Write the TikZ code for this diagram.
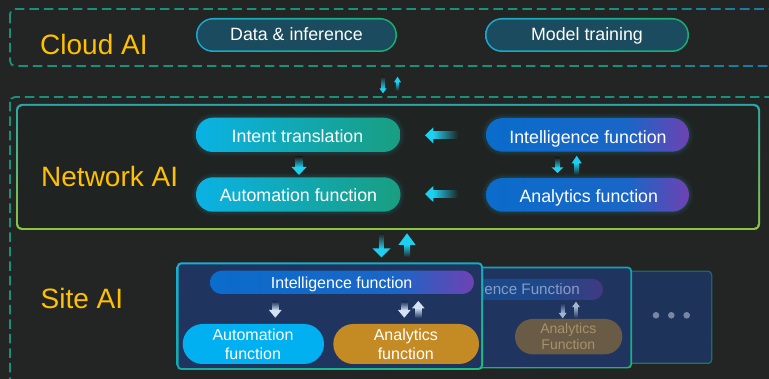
\documentclass[tikz,border=0pt]{standalone}
\usepackage{fontspec}
\setmainfont{Liberation Sans}
\usetikzlibrary{shadings}
\definecolor{bg}{HTML}{232525}
\definecolor{ylw}{HTML}{FFC000}
\definecolor{dteal}{HTML}{17907E}
\definecolor{dblue}{HTML}{1A78B0}
\definecolor{cloudfill}{HTML}{1B4B5E}
\definecolor{cbl}{HTML}{19A9D2}
\definecolor{cbr}{HTML}{17B06E}
\definecolor{nettop}{HTML}{2AA7A8}
\definecolor{netbot}{HTML}{8DC63F}
\definecolor{netfill}{HTML}{1F2322}
\definecolor{cyanL}{HTML}{0AB2E4}
\definecolor{tealR}{HTML}{199E80}
\definecolor{blueL}{HTML}{0A6CCB}
\definecolor{bpmid}{HTML}{1A66C6}
\definecolor{purpR}{HTML}{6E42B2}
\definecolor{arrc}{HTML}{1DD0F0}
\definecolor{glowc}{HTML}{2AB8D8}
\definecolor{navy}{HTML}{1F3560}
\definecolor{navy2}{HTML}{1E3359}
\definecolor{sauto}{HTML}{00B0F0}
\definecolor{sanaly}{HTML}{C48B25}
\definecolor{bb1}{HTML}{1B6B68}
\definecolor{bb2}{HTML}{1B7A5C}
\definecolor{mb1}{HTML}{14A3B5}
\definecolor{mb2}{HTML}{16A98F}
\definecolor{mb3}{HTML}{1CB573}
\definecolor{fb1}{HTML}{1AAED2}
\definecolor{fb2}{HTML}{14ADBE}
\definecolor{fb3}{HTML}{15AAA8}
\definecolor{fb4}{HTML}{1DC178}
\definecolor{fadetext}{HTML}{8C9CC0}
\definecolor{fadearr}{HTML}{A5B5CF}
\definecolor{fadegold}{HTML}{A8926C}
\definecolor{larr}{HTML}{D3E2F4}
\definecolor{dotc}{HTML}{7786A6}
\pgfdeclarehorizontalshading{bluepurple}{100bp}{color(0bp)=(blueL); color(25bp)=(blueL); color(60bp)=(bpmid); color(75bp)=(purpR); color(100bp)=(purpR)}
\pgfdeclarehorizontalshading{cyanteal}{100bp}{color(0bp)=(cyanL); color(25bp)=(cyanL); color(75bp)=(tealR); color(100bp)=(tealR)}
% down arrow: x, ytop, ytip, tail width, head width, head length, colour, fade colour
\newcommand{\arrdn}[8]{%
  \shade[top color=#8, bottom color=#7] ({#1-#4/2},#2) rectangle ({#1+#4/2},{#3-#6+0.3});
  \fill[#7] ({#1-#5/2},{#3-#6}) -- ({#1+#5/2},{#3-#6}) -- (#1,#3) -- cycle;}
% up arrow: x, ytip, ybottom, tail width, head width, head length, colour, fade colour
\newcommand{\arrup}[8]{%
  \shade[top color=#7, bottom color=#8] ({#1-#4/2},{#2+#6-0.3}) rectangle ({#1+#4/2},#3);
  \fill[#7] ({#1-#5/2},{#2+#6}) -- ({#1+#5/2},{#2+#6}) -- (#1,#2) -- cycle;}
% left arrow: y, xtip, xend, tail width, head width, head length, colour, fade colour
\newcommand{\arrlf}[8]{%
  \shade[left color=#7, right color=#8] ({#2+#6-0.3},{#1-#4/2}) rectangle (#3,{#1+#4/2});
  \fill[#7] ({#2+#6},{#1-#5/2}) -- ({#2+#6},{#1+#5/2}) -- (#2,#1) -- cycle;}
% soft glow round a pill: x1, y1, x2, y2, radius
\newcommand{\glow}[5]{%
  \fill[glowc, opacity=.06, rounded corners={#5+4pt}] ({#1-4},{#2-4}) rectangle ({#3+4},{#4+4});
  \fill[glowc, opacity=.08, rounded corners={#5+2pt}] ({#1-2},{#2-2}) rectangle ({#3+2},{#4+2});}
\newcommand{\twoline}[3]{\vtop{\baselineskip=#3\relax\lineskiplimit=-30pt\relax\halign{\hfil##\hfil\cr#1\cr#2\cr}}}
\tikzset{
  title/.style={text=ylw, font=\fontsize{28}{32}\selectfont, anchor=base west, inner sep=0pt},
  ptext/.style={text=white, font=\fontsize{17.8}{21}\selectfont, anchor=base, inner sep=0pt},
  stext/.style={text=white, font=\fontsize{16}{19}\selectfont, anchor=base, inner sep=0pt},
  dashbox/.style={line width=1.8pt, dash pattern=on 9.5pt off 5pt, rounded corners=5pt},
}
\begin{document}
\begin{tikzpicture}[x=1pt,y=-1pt]
\useasboundingbox (0,0) rectangle (769,379);
\fill[bg] (0,0) rectangle (769,379);
\clip (0,0) rectangle (769,379);
% dashed frames
\draw[dashbox, dteal] (10,9) rectangle (800,66);
\foreach \i in {0,...,11}{
  \pgfmathtruncatemacro\pct{100-\i*9}
  \begin{scope}
    \clip ({600+\i*15},0) rectangle ({615.5+\i*15},80);
    \draw[dashbox, dteal!\pct!dblue] (10,9) rectangle (800,66);
  \end{scope}
}
\draw[dashbox, dteal] (10,97) rectangle (800,420);
% cloud
\node[title] (cloudai) at (40,55) {Cloud AI};
\shade[left color=cbl, right color=cbr, rounded corners=17pt] (196,18) rectangle (397,52);
\fill[cloudfill, rounded corners=15.4pt] (197.6,19.6) rectangle (395.4,50.4);
\node[ptext] (data) at (296.5,41) {Data \& inference};
\shade[left color=cbl, right color=cbr, rounded corners=17pt] (485,18) rectangle (689,52);
\fill[cloudfill, rounded corners=15.4pt] (486.6,19.6) rectangle (687.4,50.4);
\node[ptext] (model) at (587,41) {Model training};
\arrdn{383}{76.7}{93.3}{4}{7.3}{5}{arrc}{bg}
\arrup{397.5}{76.7}{90.7}{3.3}{7}{5.6}{arrc}{bg}
% network
\shade[top color=nettop, bottom color=netbot, rounded corners=6pt] (16,104) rectangle (760,230);
\fill[netfill, rounded corners=4.5pt] (18,106) rectangle (758,228);
\node[title] (netai) at (41,186.5) {Network AI};
\glow{196}{117.7}{400.5}{152}{17pt}
\glow{196}{177.3}{400.5}{211.7}{17pt}
\glow{486}{118}{689}{151.7}{16.8pt}
\glow{486}{178}{689}{211.7}{16.8pt}
\shade[shading=cyanteal, rounded corners=17pt] (196,117.7) rectangle (400.5,152);
\node[ptext] (intent) at (297.5,142.7) {Intent translation};
\shade[shading=cyanteal, rounded corners=17pt] (196,177.3) rectangle (400.5,211.7);
\node[ptext] (autonet) at (298.5,201.7) {Automation function};
\shade[shading=bluepurple, rounded corners=16.8pt] (486,118) rectangle (689,151.7);
\node[ptext] (intelnet) at (588,143.3) {Intelligence function};
\shade[shading=bluepurple, rounded corners=16.8pt] (486,178) rectangle (689,211.7);
\node[ptext] (analnet) at (588.8,202.7) {Analytics function};
\arrlf{135.3}{425}{458.3}{6.7}{16}{8.3}{arrc}{netfill}
\arrlf{194}{425}{458.3}{6.7}{16}{8.3}{arrc}{netfill}
\arrdn{299}{157}{175}{7}{15}{8}{arrc}{netfill}
\arrdn{557.5}{158}{173}{5}{11.6}{5.5}{arrc}{netfill}
\arrup{576.7}{155.7}{175}{5}{10}{7.6}{arrc}{netfill}
\arrdn{381.5}{234}{257.3}{4.7}{18.4}{9}{arrc}{bg}
\arrup{407}{233.3}{257}{6}{17.3}{11.7}{arrc}{bg}
% site
\node[title] (siteai) at (40.5,308.3) {Site AI};
% back card
\shade[upper left=bb1, upper right=bb1, lower left=bb2, lower right=bb2, rounded corners=4pt] (560,270.7) rectangle (712.3,364);
\fill[navy2, rounded corners=3pt] (561.3,272) rectangle (711,362.7);
\fill[dotc] (656,315.3) circle (3.3) (671.3,315.3) circle (3.3) (686.7,315.3) circle (3.3);
% middle card
\shade[upper left=mb1, upper right=mb1, lower left=mb2, lower right=mb3, rounded corners=4pt] (330,266.7) rectangle (632,368.5);
\fill[navy, rounded corners=3pt] (331.7,268.4) rectangle (630.3,366.8);
\begin{scope}[opacity=.42]
  \shade[shading=bluepurple, rounded corners=10.5pt] (400,279) rectangle (603,300);
\end{scope}
\node[stext, text=fadetext, font=\fontsize{15.2}{18}\selectfont, anchor=base east] (intelmid) at (580,295) {Intelligence Function};
\arrdn{562.7}{303.3}{318.3}{3.5}{8}{5.5}{fadearr}{navy}
\arrup{576}{301.7}{318}{3.5}{8}{5.5}{fadearr}{navy}
\fill[sanaly, opacity=.45, rounded corners=17.6pt] (515,319) rectangle (622.3,354.3);
\node[stext, text=fadegold, font=\fontsize{14}{16.7}\selectfont] (analmid) at (568.3,333.3) {\twoline{Analytics}{Function}{16.7pt}};
% front card
\shade[upper left=fb1, upper right=fb2, lower left=fb3, lower right=fb4, rounded corners=4.5pt] (176.7,262.3) rectangle (483,370);
\fill[navy, rounded corners=3pt] (178.7,264.3) rectangle (481,368);
\shade[shading=bluepurple, rounded corners=11.6pt] (210,270.7) rectangle (474,294);
\node[stext] (intelsite) at (341.7,289) {Intelligence function};
\arrdn{275.3}{301.7}{317.7}{6}{12.7}{7.7}{larr}{navy}
\arrdn{404.3}{301.7}{317.7}{6}{12.7}{7.7}{larr}{navy}
\arrup{418.3}{301}{318}{6}{12.7}{7.3}{larr}{navy}
\fill[sauto, rounded corners=20pt] (182.7,324) rectangle (324,364);
\node[stext] (autosite) at (253,340.7) {\twoline{Automation}{function}{18.6pt}};
\fill[sanaly, rounded corners=20pt] (333.3,324) rectangle (479,364);
\node[stext] (analsite) at (405.8,340.7) {\twoline{Analytics}{function}{18.6pt}};
\end{tikzpicture}
\end{document}
